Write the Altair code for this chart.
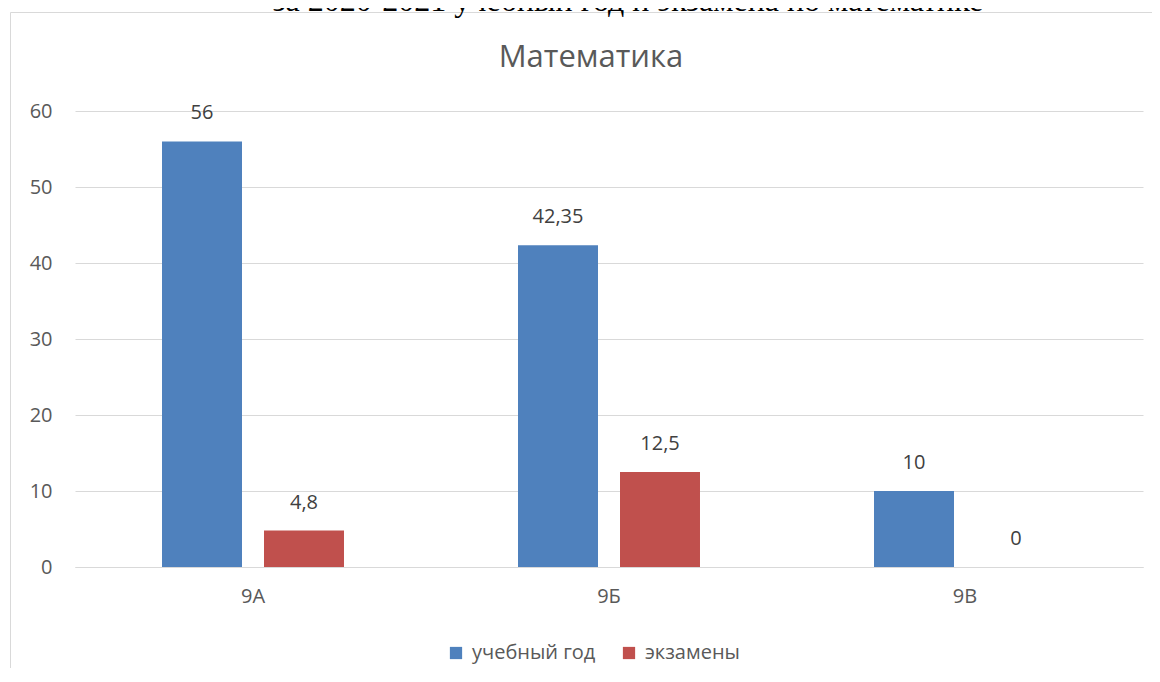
import altair as alt
import pandas as pd

classes = ["9А", "9Б", "9В"]
series_names = ["учебный год", "экзамены"]
year_vals = [56, 42.35, 10]
exam_vals = [4.8, 12.5, 0]
colors = ["#4f81bd", "#c0504d"]
y_ticks = [0, 10, 20, 30, 40, 50, 60]
chart_title = "Математика"
top_caption = "за 2020-2021 учебный год и экзамена по математике"

rows = []
for c, yv, ev in zip(classes, year_vals, exam_vals):
    rows.append({"class": c, "series": series_names[0], "value": yv})
    rows.append({"class": c, "series": series_names[1], "value": ev})
df = pd.DataFrame(rows)

FONT = "Open Sans"
GREY = "#595959"
FS = 20

x_enc = alt.X("class:N", sort=classes,
              scale=alt.Scale(paddingInner=0.4888, paddingOuter=0.2444),
              axis=alt.Axis(title=None, labelAngle=0, ticks=False, domain=True,
                            domainColor="#d9d9d9", labelPadding=19,
                            labelFontSize=FS, labelColor=GREY, labelFont=FONT,
                            labelFontWeight="normal"))
xo_enc = alt.XOffset("series:N", scale=alt.Scale(domain=series_names, paddingInner=0.2157, paddingOuter=0))
y_enc = alt.Y("value:Q", scale=alt.Scale(domain=[0, 60], nice=False),
              axis=alt.Axis(title=None, values=y_ticks, grid=True, gridColor="#d9d9d9",
                            domain=False, ticks=False, labelPadding=23,
                            labelFontSize=FS, labelColor=GREY, labelFont=FONT))

base = alt.Chart(df)

bars = base.mark_bar().encode(
    x=x_enc, xOffset=xo_enc, y=y_enc,
    color=alt.Color("series:N", scale=alt.Scale(domain=series_names, range=colors),
                    legend=alt.Legend(title=None, orient="none", legendX=371, legendY=532,
                                      direction="horizontal", symbolType="square",
                                      symbolSize=150, symbolStrokeWidth=0,
                                      labelFontSize=FS, labelColor=GREY, labelFont=FONT,
                                      columnPadding=23, labelOffset=6)),
)

labels = base.mark_text(baseline="bottom", dy=-18, fontSize=FS, color="#404040", font=FONT).encode(
    x=x_enc, xOffset=xo_enc, y=y_enc,
    text="label:N",
).transform_calculate(label="replace(toString(datum.value), '.', ',')")

frame_df = pd.DataFrame({"k": [0]})
frame = alt.Chart(frame_df).mark_rect(fill="white", fillOpacity=0, stroke="#d9d9d9", strokeWidth=1).encode(
    x=alt.value(-64.5), x2=alt.value(3000), y=alt.value(-98.5), y2=alt.value(3000)
)

cap = alt.Chart(pd.DataFrame({"t": [top_caption]})).mark_text(
    font="Liberation Serif", fontSize=32, color="black", baseline="alphabetic", align="center"
).encode(text="t:N", x=alt.value(553), y=alt.value(-100))

title = alt.Chart(pd.DataFrame({"t": [chart_title]})).mark_text(
    font=FONT, fontSize=31, color=GREY, baseline="alphabetic", align="center"
).encode(text="t:N", x=alt.value(516), y=alt.value(-44))

chart = alt.layer(frame, bars, labels, cap, title).properties(
    width=1068, height=456,
    autosize=alt.AutoSizeParams(type="none"),
    padding={"left": 67, "top": 103, "right": 9, "bottom": 101},
).configure_view(stroke=None)

chart.save("out.html", embed_options={"renderer": "svg", "actions": False})
